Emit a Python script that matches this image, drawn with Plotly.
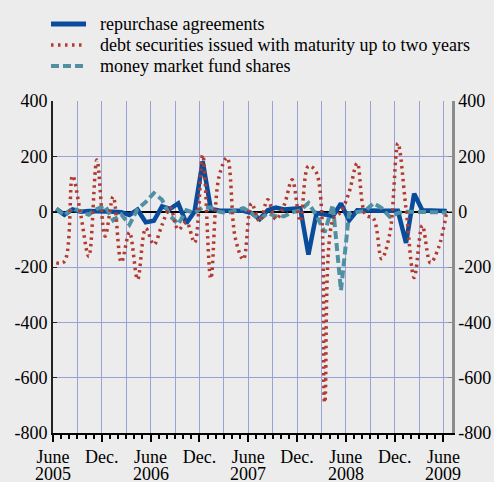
import plotly.graph_objects as go

# monthly flows, June 2005 .. June 2009 (EUR billions)
months = list(range(49))
repo = [10, -11, 8, 0, 2, 0, 0, 0, -2, -12, 7, -38, -33, 19, 10, 30, -42, 0, 182, 10,
        4, 4, 3, 3, -5, -27, 5, 15, 8, 10, 13, -155, -5, -10, -17, 30, -32, 5, 3, 3,
        3, 3, 3, -113, 65, 5, 3, 3, 2]
debt = [-185, -180, 130, -10, -162, 187, -89, 54, -183, -75, -245, -60, -119, -48, 14,
        -65, -38, -112, 205, -242, 125, 195, -94, -173, 30, -35, 43, -28, 22, 115, -35,
        165, 140, -690, -30, 0, 70, 175, -11, -25, -170, -80, 247, 10, -238, -50, -185,
        -130, 0]
mmf = [10, -14, 13, 2, -11, 10, 22, -31, -10, -47, 10, 35, 67, 43, -15, -45, 5, -5, 15,
       15, 0, -5, 5, 13, -5, -29, -5, -17, -17, -2, 5, 31, -15, -75, 25, -285, -5, 0, 3,
       31, 13, -19, -5, 0, 0, 0, -3, -3, -3]

tick_vals = list(range(0, 49, 3))
tick_text = ["June", "", "Dec.", "", "June", "", "Dec.", "", "June", "", "Dec.", "",
             "June", "", "Dec.", "", "June"]
year_pos = [0, 12, 24, 36, 48]
year_text = ["2005", "2006", "2007", "2008", "2009"]
y_ticks = [-800, -600, -400, -200, 0, 200, 400]
y_text = ["-800", "-600", "-400", "-200", "0", "200", "400"]

legend_names = ["repurchase agreements",
                "debt securities issued with maturity up to two years",
                "money market fund shares"]

BG = "#ECECEC"
GRID = "#98A2D6"
FONT = "Liberation Serif, Times New Roman, serif"
BLUE, RED, TEAL = "#0A4C9C", "#B23A30", "#4F91A3"

# plot box in pixels: left 53, right 452, top 101, bottom 433
L, T, W, H = 53, 101, 399, 332


def px_x(p):
    return (p - L) / W


def px_y(p):
    return (T + H - p) / H


x = [m + 0.4 for m in months]  # values sit mid-month

fig = go.Figure()
fig.add_trace(go.Scatter(
    x=x, y=repo, mode="lines", name=legend_names[0], showlegend=False,
    line=dict(color=BLUE, width=4.5),
))
fig.add_trace(go.Scatter(
    x=x, y=mmf, mode="lines", name=legend_names[2], showlegend=False,
    line=dict(color=TEAL, width=4, dash="8px,4px"),
))
fig.add_trace(go.Scatter(
    x=x, y=debt, mode="lines", name=legend_names[1], showlegend=False,
    line=dict(color=RED, width=3.5, dash="2.5px,4px", shape="spline"),
))
# right-hand axis copy
fig.add_trace(go.Scatter(x=[None], y=[None], yaxis="y2", showlegend=False, hoverinfo="skip"))

# legend drawn by hand so rows sit as tight as in the original
styles = [dict(color=BLUE, width=5), dict(color=RED, width=3.5, dash="2.5px,4.5px"),
          dict(color=TEAL, width=4, dash="8px,4px")]
for k, (name, st) in enumerate(zip(legend_names, styles)):
    yy = px_y(24 + 21 * k)
    fig.add_shape(type="line", xref="paper", yref="paper",
                  x0=px_x(51), x1=px_x(86), y0=yy, y1=yy, line=st)
    fig.add_annotation(text=name, xref="paper", yref="paper", x=px_x(98), y=yy,
                       xanchor="left", yanchor="middle", showarrow=False,
                       font=dict(family=FONT, size=18, color="black"))

# second line of the date labels (years), set tighter than plotly's <br> spacing
for xp, yt in zip(year_pos, year_text):
    fig.add_annotation(text=yt, xref="x", yref="paper", x=xp, y=px_y(474),
                       xanchor="center", yanchor="middle", showarrow=False,
                       font=dict(family=FONT, size=18, color="black"))

fig.update_layout(
    width=494, height=482,
    paper_bgcolor=BG, plot_bgcolor=BG,
    font=dict(family=FONT, size=18, color="black"),
    margin=dict(l=L, r=494 - L - W, t=T, b=482 - T - H, autoexpand=False),
    showlegend=False,
    xaxis=dict(
        range=[0, 49.05], tickmode="array", tickvals=tick_vals, ticktext=tick_text,
        showgrid=True, gridcolor=GRID, gridwidth=1,
        showline=True, linecolor="black", linewidth=1.5,
        ticks="outside", ticklen=7, tickcolor="black", tickwidth=1.5,
        minor=dict(tickvals=months, ticks="outside", ticklen=4, tickcolor="black",
                   tickwidth=1.5, showgrid=False),
        zeroline=False, fixedrange=True,
    ),
    yaxis=dict(
        range=[-800, 400], tickmode="array", tickvals=y_ticks, ticktext=y_text,
        showgrid=True, gridcolor=GRID, gridwidth=1,
        showline=True, linecolor="#222222", linewidth=2,
        ticks="inside", ticklen=4, tickcolor="#222222",
        zeroline=True, zerolinecolor="black", zerolinewidth=2,
    ),
    yaxis2=dict(
        range=[-800, 400], tickmode="array", tickvals=y_ticks, ticktext=y_text,
        overlaying="y", side="right",
        showgrid=False, zeroline=False,
        showline=True, linecolor="#8C8C8C", linewidth=2.5,
        ticks="inside", ticklen=4, tickcolor="#8C8C8C",
    ),
)

# drop the browser's default body margin so the figure fills the window
fig.write_html(
    "out.html",
    config={"displayModeBar": False},
    post_script="document.body.style.margin='0';document.body.style.background='%s';" % BG,
)
